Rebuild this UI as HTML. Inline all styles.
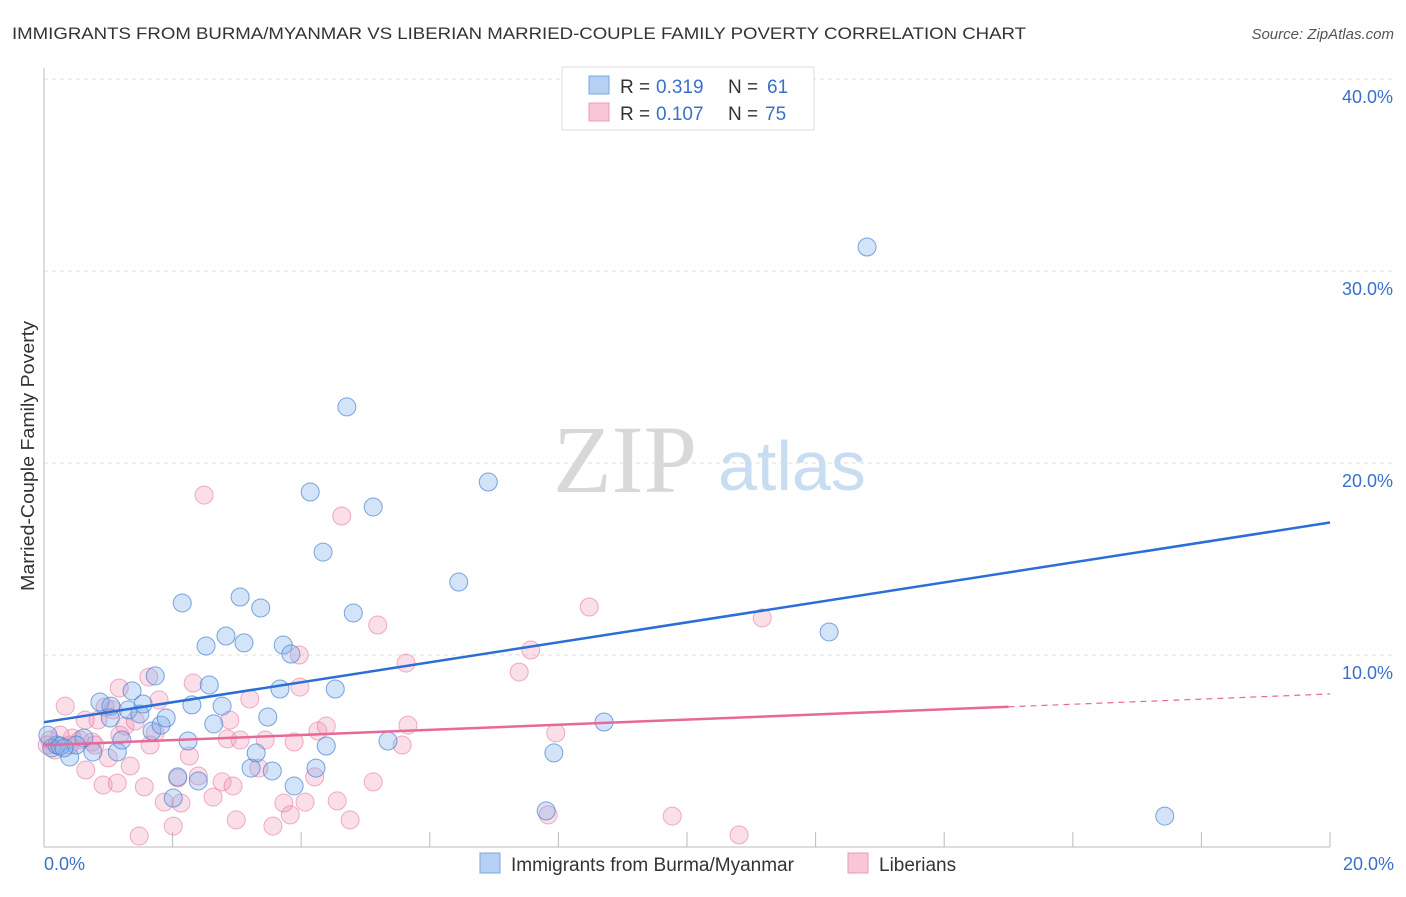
<!DOCTYPE html>
<html><head><meta charset="utf-8"><style>
body{margin:0;background:#fff;width:1406px;height:892px;overflow:hidden;font-family:"Liberation Sans",sans-serif}
</style></head><body>
<svg id="c" width="1406" height="892" xmlns="http://www.w3.org/2000/svg">
<text x="12" y="39" font-size="17" textLength="1014" lengthAdjust="spacingAndGlyphs" fill="#333">IMMIGRANTS FROM BURMA/MYANMAR VS LIBERIAN MARRIED-COUPLE FAMILY POVERTY CORRELATION CHART</text>
<text x="1394" y="39" font-size="15" fill="#555" font-style="italic" text-anchor="end">Source: ZipAtlas.com</text>
<text transform="translate(34,456) rotate(-90)" font-size="18" textLength="270" lengthAdjust="spacingAndGlyphs" fill="#333" text-anchor="middle">Married-Couple Family Poverty</text>
<text x="553" y="492" font-size="96" font-family="Liberation Serif,serif" fill="#d8d8d8">ZIP</text>
<text x="718" y="490" font-size="70" fill="#c8dcf2">atlas</text>
<g id="grid"></g><g id="pts"></g><g id="lines"></g>
<g>
<rect x="562" y="67" width="252" height="63" fill="#fff" stroke="#ddd"/>
<rect x="589" y="76" width="20" height="18" fill="#b5d0f2" stroke="#7aa6de"/>
<rect x="589" y="103" width="20" height="18" fill="#f8c6d6" stroke="#ec9ab6"/>
<text x="620" y="93" font-size="19" fill="#333">R =</text><text x="656" y="93" font-size="19" fill="#3a70c8">0.319</text>
<text x="728" y="93" font-size="19" fill="#333">N =</text><text x="767" y="93" font-size="19" fill="#3a70c8">61</text>
<text x="620" y="120" font-size="19" fill="#333">R =</text><text x="656" y="120" font-size="19" fill="#3a70c8">0.107</text>
<text x="728" y="120" font-size="19" fill="#333">N =</text><text x="765" y="120" font-size="19" fill="#3a70c8">75</text>
</g>
<g>
<rect x="480" y="853" width="20" height="20" fill="#b5d0f2" stroke="#7aa6de"/>
<text x="511" y="871" font-size="19" fill="#333">Immigrants from Burma/Myanmar</text>
<rect x="848" y="853" width="20" height="20" fill="#f8c6d6" stroke="#ec9ab6"/>
<text x="879" y="871" font-size="19" fill="#333">Liberians</text>
</g>
</svg>
<script>
const yTicks=[10,20,30,40];
const yTickLabels=["10.0%","20.0%","30.0%","40.0%"];
const xTickLabels=["0.0%","20.0%"];
const blueX=[0.12,0.20,0.40,0.62,0.76,0.87,1.04,1.14,1.21,1.31,1.37,1.49,1.54,1.68,1.73,1.82,1.90,2.01,2.08,2.15,2.24,2.30,2.40,2.52,2.57,2.64,2.77,2.83,3.05,3.11,3.22,3.30,3.37,3.48,3.55,3.67,3.72,3.84,3.89,4.14,4.23,4.34,4.39,4.53,4.71,4.81,5.12,5.35,6.45,6.91,7.81,7.93,8.71,12.21,12.80,17.43,0.25,0.06,0.50,1.03,0.31];
const blueY=[5.16,5.31,4.69,5.68,4.95,7.55,7.34,4.95,5.57,7.14,8.13,6.93,7.45,6.04,8.91,6.35,6.72,2.55,3.65,12.71,5.52,7.40,3.44,10.47,8.44,6.41,7.34,10.99,13.02,10.63,4.11,4.90,12.45,6.77,3.96,8.23,10.52,10.05,3.18,18.49,4.11,15.36,5.26,8.23,22.92,12.19,17.71,5.52,13.80,19.01,1.88,4.90,6.51,11.20,31.25,1.61,5.26,5.83,5.31,6.72,5.16];
const pinkX=[0.09,0.17,0.33,0.44,0.56,0.65,0.75,0.84,0.92,1.00,1.07,1.14,1.17,1.26,1.34,1.42,1.56,1.63,1.73,1.79,1.87,2.01,2.08,2.13,2.26,2.32,2.40,2.49,2.63,2.77,2.85,2.94,2.99,3.20,3.34,3.56,3.73,3.83,3.89,3.97,3.98,4.06,4.21,4.26,4.39,4.56,4.63,4.76,5.12,5.19,5.57,5.63,5.66,7.39,7.57,7.84,7.96,8.48,9.77,10.81,11.17,1.48,0.25,0.40,0.79,0.05,0.64,1.18,2.89,3.44,1.65,3.05,0.95];
const pinkY=[5.57,5.05,7.34,5.68,5.57,4.01,5.47,6.61,3.23,4.64,7.14,3.33,8.28,6.30,4.22,6.56,3.13,8.85,5.94,7.66,2.34,1.09,3.59,2.29,4.74,8.54,3.70,18.33,2.60,3.39,5.63,3.18,1.41,7.71,4.11,1.09,2.29,1.67,5.47,10.00,8.33,2.34,3.65,6.04,6.30,2.40,17.24,1.41,3.39,11.56,5.31,9.58,6.35,9.11,10.26,1.67,5.94,12.50,1.61,0.63,11.93,0.57,5.83,5.31,5.31,5.31,6.61,5.83,6.61,5.57,5.31,5.57,7.29];
const blueTrend=[6.5,16.9];
const pinkTrend=[5.3,7.97];
const pinkSolidEnd=15;
const NS="http://www.w3.org/2000/svg";
const X=v=>44+v*64.3, Y=v=>847-v*19.2;
function mk(t,a,p){const e=document.createElementNS(NS,t);for(const k in a)e.setAttribute(k,a[k]);p.appendChild(e);return e;}
const g=document.getElementById('grid');
yTicks.forEach((t,i)=>{
 const l=mk('line',{x1:44,x2:1394,y1:Y(t),y2:Y(t),stroke:'#ddd','stroke-dasharray':'4,4'},g);
 
 
 const tx=mk('text',{x:1393,y:Y(t)+24,'font-size':18,fill:'#3a70c8','text-anchor':'end'},g);
 tx.textContent=yTickLabels[i];
 
 
});
mk('line',{x1:44,x2:44,y1:68,y2:847,stroke:'#bbb'},g);
mk('line',{x1:44,x2:1330,y1:847,y2:847,stroke:'#bbb'},g);
for(let i=1;i<=10;i++){mk('line',{x1:X(i*2),x2:X(i*2),y1:847,y2:832,stroke:'#bbb'},g);}
const xl=mk('text',{x:44,y:870,'font-size':18,fill:'#3a70c8'},g);xl.textContent=xTickLabels[0];


const xr=mk('text',{x:1394,y:870,'font-size':18,fill:'#3a70c8','text-anchor':'end'},g);xr.textContent=xTickLabels[1];


const p=document.getElementById('pts');
pinkX.forEach((x,i)=>{const c=mk('circle',{cx:X(x),cy:Y(pinkY[i]),r:9,fill:'rgba(240,150,180,0.3)',stroke:'rgba(230,120,160,0.6)'},p);
 
 });
blueX.forEach((x,i)=>{const c=mk('circle',{cx:X(x),cy:Y(blueY[i]),r:9,fill:'rgba(130,175,235,0.35)',stroke:'rgba(70,130,210,0.7)'},p);
 
 });
const L=document.getElementById('lines');
const b=mk('line',{x1:X(0),y1:Y(blueTrend[0]),x2:X(20),y2:Y(blueTrend[1]),stroke:'#2a6ed6','stroke-width':2.5},L);


const pm=v=>pinkTrend[0]+(pinkTrend[1]-pinkTrend[0])*v/20;
const pl=mk('line',{x1:X(0),y1:Y(pinkTrend[0]),x2:X(pinkSolidEnd),y2:Y(pm(pinkSolidEnd)),stroke:'#e8689a','stroke-width':2.5},L);


const pd=mk('line',{x1:X(pinkSolidEnd),y1:Y(pm(pinkSolidEnd)),x2:X(20),y2:Y(pinkTrend[1]),stroke:'#e8689a','stroke-width':1.2,'stroke-dasharray':'6,5'},L);


</script>
</body></html>
